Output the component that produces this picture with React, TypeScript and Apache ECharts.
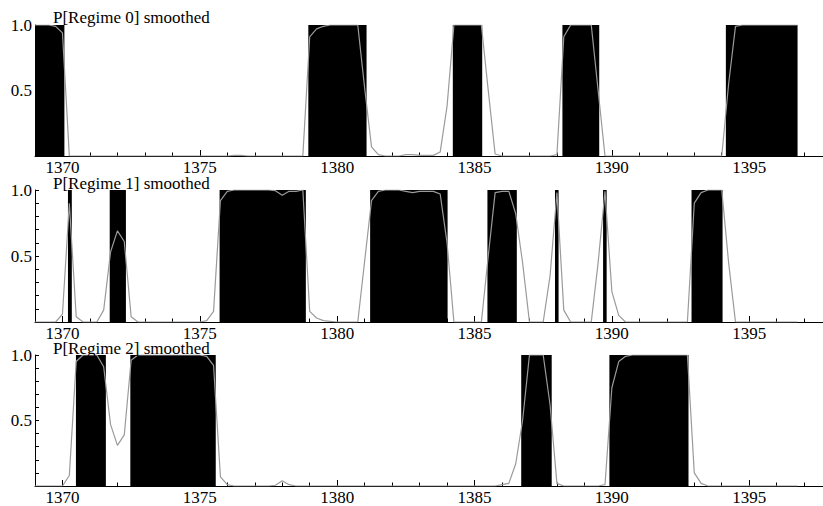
import React, { useEffect, useRef } from "react";
import * as echarts from "echarts";

// Quarterly observations, starting at 1369 Q1 (index k -> 1369 + k/4)
const START_YEAR = 1369;
const QUARTER = 0.25;

const regime0 = [
  1.0, 1.0, 1.0, 0.99, 0.94, 0, 0, 0, 0, 0,
  0, 0, 0, 0, 0, 0, 0, 0, 0, 0,
  0, 0, 0, 0, 0, 0, 0, 0, 0, 0.005,
  0.005, 0, 0, 0, 0, 0, 0, 0, 0, 0,
  0.91, 0.97, 0.99, 1.0, 1.0, 1.0, 1.0, 1.0, 0.52, 0.07,
  0.01, 0, 0, 0, 0.01, 0.01, 0.005, 0.005, 0.005, 0.03,
  0.38, 1.0, 1.0, 1.0, 1.0, 1.0, 0.5, 0.015, 0, 0,
  0, 0, 0, 0, 0, 0, 0.01, 0.91, 1.0, 1.0,
  1.0, 1.0, 0.5, 0, 0, 0, 0, 0, 0, 0,
  0, 0, 0, 0, 0, 0, 0, 0, 0, 0,
  0, 0.55, 0.99, 1.0, 1.0, 1.0, 1.0, 1.0, 1.0, 1.0,
  1.0, 1.0,
];

const regime1 = [
  0, 0, 0, 0, 0.06, 0.9, 0.04, 0, 0, 0,
  0.09, 0.53, 0.69, 0.61, 0.04, 0, 0, 0, 0, 0,
  0, 0, 0, 0, 0, 0.01, 0.08, 0.92, 0.99, 1.0,
  1.0, 1.0, 1.0, 1.0, 1.0, 0.995, 0.96, 0.99, 0.99, 1.0,
  0.08, 0.03, 0.01, 0.005, 0, 0, 0, 0, 0.46, 0.92,
  0.99, 1.0, 1.0, 1.0, 0.99, 0.98, 0.99, 0.99, 0.99, 0.97,
  0.6, 0, 0, 0, 0, 0, 0.5, 0.98, 0.99, 0.99,
  0.82, 0.45, 0, 0, 0, 0.35, 0.98, 0.09, 0, 0,
  0, 0, 0.45, 0.99, 0.23, 0.05, 0, 0, 0, 0,
  0, 0, 0, 0, 0, 0, 0.9, 0.98, 1.0, 1.0,
  1.0, 0.45, 0, 0, 0, 0, 0, 0, 0, 0,
  0, 0,
];

const regime2 = [
  0, 0, 0, 0, 0, 0.08, 0.95, 1.0, 1.0, 1.0,
  0.91, 0.47, 0.31, 0.39, 0.96, 1.0, 1.0, 1.0, 1.0, 1.0,
  1.0, 1.0, 1.0, 1.0, 1.0, 0.99, 0.92, 0.07, 0.01, 0,
  0, 0, 0, 0, 0, 0.005, 0.04, 0.01, 0, 0,
  0, 0, 0, 0, 0, 0, 0, 0, 0, 0,
  0, 0, 0, 0, 0, 0, 0, 0, 0, 0,
  0, 0, 0, 0, 0, 0, 0, 0, 0.01, 0.02,
  0.17, 0.5, 1.0, 1.0, 1.0, 0.62, 0.02, 0, 0, 0,
  0, 0, 0, 0.01, 0.75, 0.95, 0.99, 1.0, 1.0, 1.0,
  1.0, 1.0, 1.0, 1.0, 1.0, 1.0, 0.1, 0.02, 0, 0,
  0, 0, 0, 0, 0, 0, 0, 0, 0, 0,
  0, 0,
];

// Periods classified in each regime (start year, end year)
const regime0Periods = [
  [1369.0, 1370.07],
  [1378.95, 1381.07],
  [1384.21, 1385.28],
  [1388.2, 1389.54],
  [1394.15, 1396.76],
];
const regime1Periods = [
  [1370.2, 1370.34],
  [1371.72, 1372.31],
  [1375.72, 1378.86],
  [1381.2, 1384.02],
  [1385.47, 1386.54],
  [1387.93, 1388.06],
  [1389.68, 1389.81],
  [1392.9, 1394.03],
];
const regime2Periods = [
  [1370.49, 1371.58],
  [1372.47, 1375.58],
  [1386.7, 1387.81],
  [1389.91, 1392.79],
];

const titles = ["P[Regime 0] smoothed", "P[Regime 1] smoothed", "P[Regime 2] smoothed"];
const xMajorTicks = [1370, 1375, 1380, 1385, 1390, 1395];
const xMinorTicks = [
  1369, 1370, 1371, 1372, 1373, 1374, 1375, 1376, 1377, 1378, 1379, 1380, 1381, 1382,
  1383, 1384, 1385, 1386, 1387, 1388, 1389, 1390, 1391, 1392, 1393, 1394, 1395, 1396, 1397,
];
const yTicks = [0, 0.1, 0.2, 0.3, 0.4, 0.5, 0.6, 0.7, 0.8, 0.9, 1.0];
const yLabels = [0.5, 1.0];

const X_MIN = 1369;
const X_MAX = 1397.686;

const FONT = '"Liberation Serif", "DejaVu Serif", serif';
const FONT_SIZE = 17;

export default function App() {
  const ref = useRef<HTMLDivElement>(null);

  useEffect(() => {
    if (!ref.current) return;
    const chart = echarts.init(ref.current, null, { renderer: "svg" });

    const series_ = [regime0, regime1, regime2];
    const periods = [regime0Periods, regime1Periods, regime2Periods];
    const tops = [25, 190, 355];
    const heights = [131, 132, 131];
    const titleY = [17, 183, 348];

    const grid: any[] = [];
    const xAxis: any[] = [];
    const yAxis: any[] = [];
    const series: any[] = [];
    const graphic: any[] = [];

    for (let i = 0; i < 3; i++) {
      grid.push({ left: 35, right: 0, top: tops[i], height: heights[i], containLabel: false });
      xAxis.push({
        type: "value",
        gridIndex: i,
        position: "bottom",
        min: X_MIN,
        max: X_MAX,
        axisLine: { show: true, onZero: false, lineStyle: { color: "#000", width: 1 } },
        axisTick: {
          show: true,
          inside: true,
          length: 6,
          customValues: xMajorTicks,
          lineStyle: { color: "#000", width: 1 },
        },
        axisLabel: {
          show: true,
          customValues: xMajorTicks,
          margin: 5,
          color: "#000",
          fontFamily: FONT,
          fontSize: FONT_SIZE,
          lineHeight: 13,
          formatter: (v: number) => String(Math.round(v)),
        },
        splitLine: { show: false },
      });
      xAxis.push({
        type: "value",
        gridIndex: i,
        position: "bottom",
        min: X_MIN,
        max: X_MAX,
        axisLine: { show: false, onZero: false },
        axisTick: {
          show: true,
          inside: true,
          length: 3.5,
          customValues: xMinorTicks,
          lineStyle: { color: "#000", width: 1 },
        },
        axisLabel: { show: false },
        splitLine: { show: false },
      });
      yAxis.push({
        type: "value",
        gridIndex: i,
        min: 0,
        max: 1,
        axisLine: { show: true, lineStyle: { color: "#000", width: 1 } },
        axisTick: {
          show: true,
          inside: true,
          length: 4,
          customValues: yTicks,
          lineStyle: { color: "#000", width: 1 },
        },
        axisLabel: {
          show: true,
          customValues: yLabels,
          margin: 3,
          color: "#000",
          fontFamily: FONT,
          fontSize: FONT_SIZE,
          lineHeight: 13,
          formatter: (v: number) => v.toFixed(1),
        },
        splitLine: { show: false },
      });

      series.push({
        type: "custom",
        xAxisIndex: 2 * i,
        yAxisIndex: i,
        silent: true,
        z: 1,
        data: periods[i],
        encode: { x: [0, 1] },
        renderItem: (_params: any, api: any) => {
          const p0 = api.coord([api.value(0), 1]);
          const p1 = api.coord([api.value(1), 0]);
          return {
            type: "rect",
            shape: { x: p0[0], y: p0[1], width: p1[0] - p0[0], height: p1[1] - p0[1] },
            style: { fill: "#000" },
          };
        },
      });

      series.push({
        type: "line",
        xAxisIndex: 2 * i,
        yAxisIndex: i,
        z: 3,
        silent: true,
        symbol: "none",
        showSymbol: false,
        lineStyle: { color: "#9a9a9a", width: 1.2 },
        data: series_[i].map((v, k) => [START_YEAR + k * QUARTER, v]),
      });

      graphic.push({
        type: "text",
        x: 53,
        y: titleY[i],
        z: 10,
        style: {
          text: titles[i],
          fontFamily: FONT,
          fontSize: FONT_SIZE,
          lineHeight: 13,
          fill: "#000",
          align: "left",
          verticalAlign: "middle",
        },
      });
    }

    chart.setOption({
      animation: false,
      backgroundColor: "#fff",
      grid,
      xAxis,
      yAxis,
      series,
      graphic,
    });

    return () => chart.dispose();
  }, []);

  return (
    <div
      ref={ref}
      style={{ position: "fixed", left: 0, top: 0, width: 823, height: 506, background: "#fff" }}
    />
  );
}
